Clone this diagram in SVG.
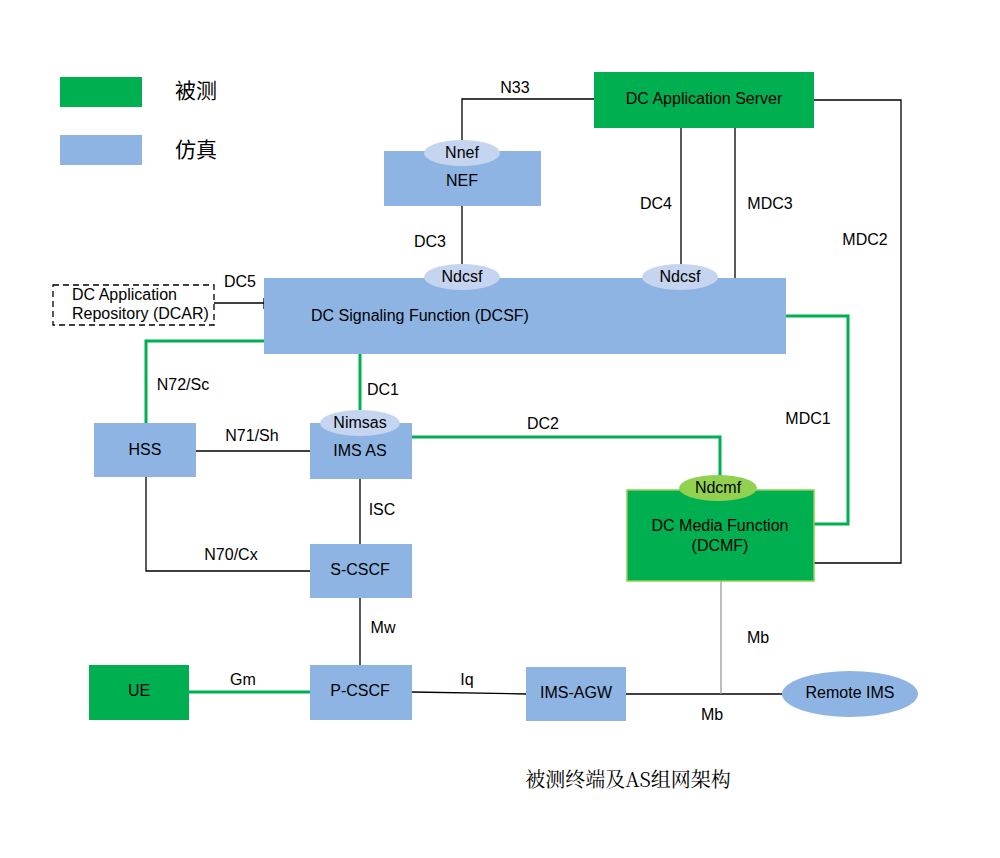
<svg xmlns="http://www.w3.org/2000/svg" width="1000" height="858" viewBox="0 0 1000 858">
<style>
text{font-family:"Liberation Sans",Arial,sans-serif;font-size:16px;fill:#000;text-anchor:middle;dominant-baseline:middle}
.b{fill:#8eb4e3}
.g{fill:#00b050}
.e{fill:#c6d5ef}
.k{stroke:#000;stroke-width:1.3;fill:none}
.gl{stroke:#00b050;stroke-width:3;fill:none}
.cn{font-family:"Noto Sans CJK SC",sans-serif;font-size:21px;text-anchor:start}
</style>
<rect width="1000" height="858" fill="#fff"/>
<g id="legend">
<rect x="60" y="77" width="82" height="30" class="g"/>
<rect x="60" y="135" width="82" height="30" class="b"/>
<text x="175" y="92" class="cn">被测</text>
<text x="175" y="151" class="cn">仿真</text>
</g>
<g id="connectors">
<polyline class="k" points="462,140 462,99 594,99"/>
<line class="k" x1="462" y1="206" x2="462" y2="265"/>
<line class="k" x1="681" y1="128" x2="681" y2="265"/>
<line class="k" x1="735" y1="128" x2="735" y2="278"/>
<polyline class="k" points="814,100 901,100 901,563 814,563"/>
<polyline class="gl" points="786,316 848,316 848,524 814,524"/>
<line class="k" x1="214" y1="303" x2="264" y2="303"/>
<line class="k" x1="264" y1="298" x2="264" y2="309"/>
<polyline class="gl" points="264,341 146,341 146,423"/>
<line class="gl" x1="360" y1="354" x2="360" y2="410"/>
<line class="k" x1="196" y1="451" x2="310" y2="451"/>
<polyline class="gl" points="412,437 720,437 720,476"/>
<line class="k" x1="360" y1="479" x2="360" y2="544"/>
<polyline class="k" points="146,477 146,571 310,571"/>
<line class="k" x1="360" y1="598" x2="360" y2="665"/>
<line class="gl" x1="189" y1="692" x2="310" y2="692"/>
<line class="k" x1="412" y1="692" x2="526" y2="694"/>
<line class="k" x1="626" y1="694" x2="782" y2="694"/>
<line x1="721" y1="581" x2="721" y2="694" stroke="#999" stroke-width="1.3"/>
<text x="515" y="89">N33</text>
<text x="430" y="243">DC3</text>
<text x="656" y="205">DC4</text>
<text x="770" y="205">MDC3</text>
<text x="865" y="241">MDC2</text>
<text x="808" y="420">MDC1</text>
<text x="240" y="283">DC5</text>
<text x="183" y="386">N72/Sc</text>
<text x="383" y="391">DC1</text>
<text x="252" y="437">N71/Sh</text>
<text x="543" y="425">DC2</text>
<text x="382" y="511">ISC</text>
<text x="231" y="556">N70/Cx</text>
<text x="383" y="629">Mw</text>
<text x="243" y="681">Gm</text>
<text x="467" y="681">Iq</text>
<text x="758" y="639">Mb</text>
<text x="712" y="716">Mb</text>
</g>
<g id="dcas"><rect x="594" y="72" width="220" height="56" class="g"/><text x="704" y="100">DC Application Server</text></g>
<g id="nef"><rect x="384" y="151" width="157" height="55" class="b"/><ellipse cx="462" cy="153" rx="38" ry="13" class="e"/><text x="462" y="154">Nnef</text><text x="462" y="182">NEF</text></g>
<g id="dcsf"><rect x="264" y="278" width="522" height="76" class="b"/><text x="420" y="317">DC Signaling Function (DCSF)</text>
<ellipse cx="462" cy="277" rx="38" ry="13" class="e"/><text x="462" y="278">Ndcsf</text>
<ellipse cx="680" cy="277" rx="38" ry="13" class="e"/><text x="680" y="278">Ndcsf</text></g>
<g id="dcar"><rect x="53" y="285" width="161" height="40" fill="none" stroke="#000" stroke-width="1.3" stroke-dasharray="6,4"/><text x="72" y="296" style="text-anchor:start">DC Application</text><text x="72" y="315" style="text-anchor:start">Repository (DCAR)</text></g>
<g id="hss"><rect x="94" y="423" width="102" height="54" class="b"/><text x="145" y="451">HSS</text></g>
<g id="imsas"><rect x="310" y="423" width="102" height="56" class="b"/><ellipse cx="360" cy="423" rx="40" ry="13" class="e"/><text x="360" y="424">Nimsas</text><text x="360" y="452">IMS AS</text></g>
<g id="dcmf"><rect x="627" y="490" width="187" height="91" class="g" stroke="#92d050" stroke-width="1.5"/><ellipse cx="718" cy="488" rx="39" ry="13" fill="#92d050"/><text x="718" y="489">Ndcmf</text><text x="720" y="527">DC Media Function</text><text x="720" y="547">(DCMF)</text></g>
<g id="scscf"><rect x="310" y="544" width="102" height="54" class="b"/><text x="360" y="571">S-CSCF</text></g>
<g id="pcscf"><rect x="310" y="665" width="102" height="55" class="b"/><text x="360" y="692">P-CSCF</text></g>
<g id="ue"><rect x="89" y="665" width="100" height="55" class="g"/><text x="139" y="692">UE</text></g>
<g id="imsagw"><rect x="526" y="667" width="100" height="54" class="b"/><text x="576" y="694">IMS-AGW</text></g>
<g id="remote"><ellipse cx="850" cy="694" rx="68" ry="23" class="b"/><text x="850" y="694">Remote IMS</text></g>
<text x="628" y="782" style="font-family:'Noto Serif CJK SC','Noto Sans CJK SC',serif;font-size:20px">被测终端及AS组网架构</text>
</svg>
